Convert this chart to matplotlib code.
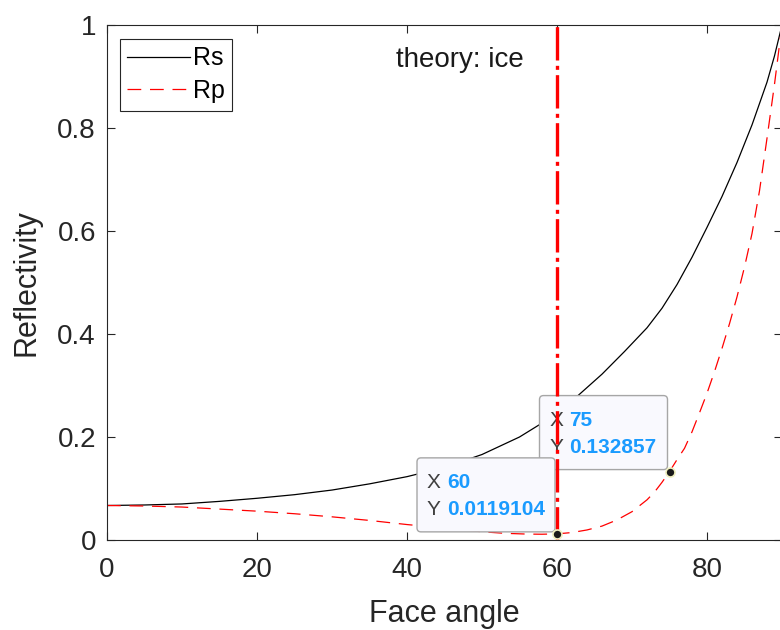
import matplotlib
matplotlib.use("Agg")
import matplotlib.pyplot as plt
import matplotlib.transforms as mtransforms
from matplotlib.patches import FancyBboxPatch
from matplotlib.ticker import FuncFormatter

plt.rcParams['font.family'] = ['Liberation Sans', 'DejaVu Sans']

# Rs curve
angle_s = [0, 5, 10, 15, 20, 25, 30, 35, 40, 45, 50, 55, 60, 63, 66, 69, 72, 74,
           76, 78, 80, 82, 84, 86, 88, 89, 90]
rs = [0.067, 0.068, 0.070, 0.075, 0.081, 0.088, 0.097, 0.109, 0.123, 0.141, 0.166,
      0.200, 0.245, 0.283, 0.322, 0.366, 0.412, 0.450, 0.496, 0.549, 0.607, 0.667,
      0.733, 0.806, 0.889, 0.940, 1.0]

# Rp curve
angle_p = [0, 5, 10, 15, 20, 25, 30, 35, 40, 45, 50, 53, 56, 58, 60, 62, 64, 66,
           68, 70, 72, 73, 74, 75, 76, 77, 78, 79, 80, 81, 82, 83, 84, 85, 86, 87,
           88, 89, 90]
rp = [0.067, 0.066, 0.064, 0.060, 0.056, 0.051, 0.045, 0.038, 0.030, 0.023, 0.016,
      0.013, 0.0115, 0.0112, 0.0119104, 0.0145, 0.0195, 0.027, 0.039, 0.055, 0.078,
      0.093, 0.112, 0.132857, 0.156, 0.178, 0.210, 0.247, 0.285, 0.327, 0.372,
      0.420, 0.472, 0.530, 0.595, 0.678, 0.780, 0.885, 1.0]

# data tips
tip_x = [60, 75]
tip_y = [0.0119104, 0.132857]
tip_labels = ['0.0119104', '0.132857']
tip_widths = [138, 128]   # box widths in px

face_angle_mark = 60
xticks = [0, 20, 40, 60, 80]
yticks = [0, 0.2, 0.4, 0.6, 0.8, 1.0]

fig = plt.figure(figsize=(7.8, 6.3), dpi=100)
ax = fig.add_axes([107 / 780, 90 / 630, 675 / 780, 515 / 630])

ax.plot(angle_s, rs, color='black', lw=0.9, label='Rs', zorder=2)
ax.plot(angle_p, rp, color='red', lw=0.9, linestyle=(0, (11, 7)), label='Rp', zorder=2)

ax.set_xlim(0, 90)
ax.set_ylim(0, 1)
ax.set_xticks(xticks)
ax.set_yticks(yticks)
ax.yaxis.set_major_formatter(FuncFormatter(lambda v, p: '%g' % v))
ax.tick_params(direction='in', top=True, right=True, length=6, width=0.8,
               labelsize=20, colors='#262626')
ax.tick_params(axis='x', pad=12)
ax.tick_params(axis='y', pad=8)
for sp in ax.spines.values():
    sp.set_color('#262626')
    sp.set_linewidth(0.8)

ax.set_xlabel('Face angle', fontsize=22, color='#262626', labelpad=12)
ax.set_ylabel('Reflectivity', fontsize=22, color='#262626', labelpad=11)

ax.text(47, 0.932, 'theory: ice', fontsize=20, ha='center', va='center', color='#1a1a1a')

leg = ax.legend(loc='upper left', bbox_to_anchor=(0.019, 0.973), fontsize=18,
                handlelength=2.5, handletextpad=0.12, borderpad=0.3,
                labelspacing=0.35, borderaxespad=0, fancybox=False, framealpha=1)
leg.get_frame().set_edgecolor('#262626')
leg.get_frame().set_linewidth(0.8)

# vertical marker line
ax.axvline(face_angle_mark, color='red', lw=2.4, linestyle=(0, (10, 1.6, 1.2, 1.6)), zorder=6)

# data tips: boxes drawn in pixel offsets from the data point
for i, (tx, ty, lab, w) in enumerate(zip(tip_x, tip_y, tip_labels, tip_widths)):
    trans = fig.dpi_scale_trans + mtransforms.ScaledTranslation(tx, ty, ax.transData)
    z = 5 if i == 0 else 4
    left = -(w + 2) / 100
    box = FancyBboxPatch((left, 2 / 100), w / 100, 74 / 100,
                         boxstyle='round,pad=0,rounding_size=0.04',
                         transform=trans, facecolor='#f9f9fe', edgecolor='#a6a6a6',
                         lw=1.0, clip_on=False, zorder=z)
    ax.add_patch(box)
    ax.text(left + 10 / 100, 51 / 100, 'X', transform=trans, fontsize=15,
            color='#404040', va='center', ha='left', zorder=z)
    ax.text(left + 10 / 100, 24 / 100, 'Y', transform=trans, fontsize=15,
            color='#404040', va='center', ha='left', zorder=z)
    ax.text(left + 30 / 100, 51 / 100, '%g' % tx, transform=trans, fontsize=15,
            color='#1a9bff', fontweight='bold', va='center', ha='left', zorder=z)
    ax.text(left + 30 / 100, 24 / 100, lab, transform=trans, fontsize=15,
            color='#1a9bff', fontweight='bold', va='center', ha='left', zorder=z)

ax.scatter(tip_x, tip_y, s=42, color='#1a1a1a', edgecolor='#f0f0c0', lw=1.2, zorder=7,
           clip_on=False)

fig.savefig('out.png', dpi=100)
